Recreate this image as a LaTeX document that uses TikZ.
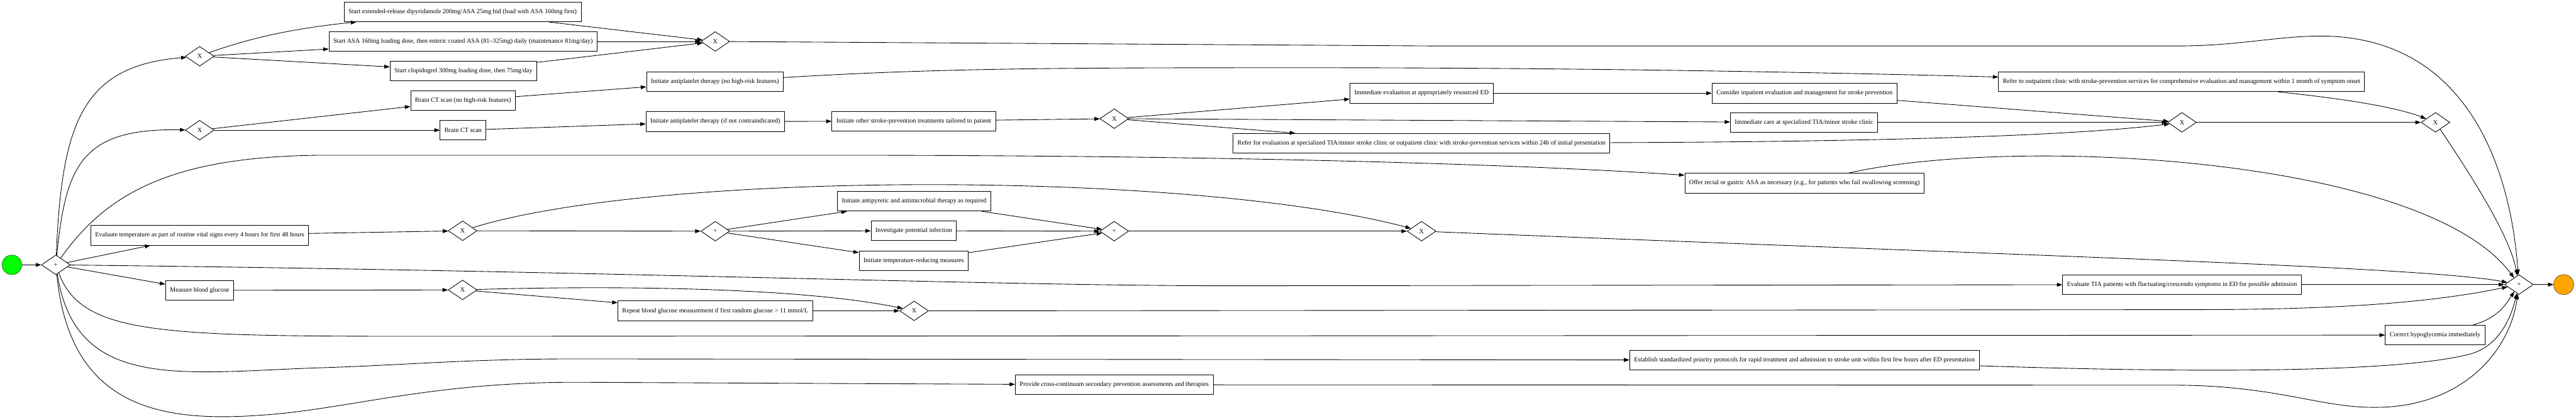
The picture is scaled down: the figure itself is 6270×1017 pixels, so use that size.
\documentclass[tikz,border=0pt]{standalone}
\usepackage{fontspec}
\setmainfont{Liberation Serif}
\usetikzlibrary{shapes.geometric,arrows.meta}
\definecolor{startgreen}{HTML}{00FF00}
\definecolor{endorange}{HTML}{FFA500}

\begin{document}
\begin{tikzpicture}[x=0.75pt, y=-0.75pt,
  task/.style={draw, line width=1pt, rectangle, minimum height=36pt, minimum width=54pt, inner xsep=8pt, font=\fontsize{11.7}{14}\selectfont},
  gate/.style={draw, line width=1pt, diamond, minimum width=52.5pt, minimum height=36pt, inner sep=0pt, font=\fontsize{11.7}{14}\selectfont},
  startev/.style={draw, circle, fill=startgreen, minimum size=36pt, inner sep=0pt},
  endev/.style={draw, circle, fill=endorange, minimum size=36.75pt, inner sep=0pt},
  flow/.style={line width=1pt, -{Triangle[length=10pt,width=7pt]}}]
\path[fill=white, use as bounding box] (0,0) rectangle (6270,1017);

\node[startev] (start) at (29, 645) {};
\node[gate] (pSplit) at (136, 645) {+};

\node[gate] (xDrug) at (486, 137) {X};
\node[task] (dipyr) at (1126, 29) {Start extended-release dipyridamole 200mg/ASA 25mg bid (load with ASA 160mg first)};
\node[task] (asa) at (1127, 101) {Start ASA 160mg loading dose, then enteric coated ASA (81--325mg) daily (maintenance 81mg/day)};
\node[task] (clopid) at (1128, 173) {Start clopidogrel 300mg loading dose, then 75mg/day};
\node[gate] (xDrugJoin) at (1741, 101) {X};

\node[gate] (xCT) at (486, 317) {X};
\node[task] (ctLow) at (1127, 245) {Brain CT scan (no high-risk features)};
\node[task] (ct) at (1127, 317) {Brain CT scan};
\node[task] (apLow) at (1740, 199) {Initiate antiplatelet therapy (no high-risk features)};
\node[task] (apIfOk) at (1741, 296) {Initiate antiplatelet therapy (if not contraindicated)};
\node[task] (other) at (2224, 295) {Initiate other stroke-prevention treatments tailored to patient};
\node[gate] (xRoute) at (2712, 289) {X};
\node[task] (edEval) at (3460, 227) {Immediate evaluation at appropriately resourced ED};
\node[task] (inpat) at (4392, 227) {Consider inpatient evaluation and management for stroke prevention};
\node[task] (tiaCare) at (4391, 298) {Immediate care at specialized TIA/minor stroke clinic};
\node[task] (refer24) at (3460, 349) {Refer for evaluation at specialized TIA/minor stroke clinic or outpatient clinic with stroke-prevention services within 24h of initial presentation};
\node[gate] (xRouteJoin) at (5311, 298) {X};
\node[task] (referMonth) at (5310, 199) {Refer to outpatient clinic with stroke-prevention services for comprehensive evaluation and management within 1 month of symptom onset};
\node[gate] (xPrev) at (5928, 298) {X};

\node[task] (rectal) at (4392, 446) {Offer rectal or gastric ASA as necessary (e.g., for patients who fail swallowing screening)};

\node[task] (temp) at (486, 573) {Evaluate temperature as part of routine vital signs every 4 hours for first 48 hours};
\node[gate] (xTemp) at (1126, 562) {X};
\node[gate] (pFever) at (1741, 563) {+};
\node[task] (antipyr) at (2225, 490) {Initiate antipyretic and antimicrobial therapy as required};
\node[task] (infect) at (2224, 562) {Investigate potential infection};
\node[task] (cool) at (2224, 635) {Initiate temperature-reducing measures};
\node[gate] (pFeverJoin) at (2712, 563) {+};
\node[gate] (xTempJoin) at (3460, 563) {X};

\node[task] (tiaEval) at (5311, 693) {Evaluate TIA patients with fluctuating/crescendo symptoms in ED for possible admission};

\node[task] (gluc) at (486, 707) {Measure blood glucose};
\node[gate] (xGluc) at (1126, 706) {X};
\node[task] (repeatGluc) at (1741, 757) {Repeat blood glucose measurement if first random glucose > 11 mmol/L};
\node[gate] (xGlucJoin) at (2225, 757) {X};

\node[task] (hypo) at (5927, 816) {Correct hypoglycemia immediately};
\node[task] (protocol) at (4392, 877) {Establish standardized priority protocols for rapid treatment and admission to stroke unit within first few hours after ED presentation};
\node[task] (crossCont) at (2712, 937) {Provide cross-continuum secondary prevention assessments and therapies};

\node[gate] (pJoin) at (6131, 693) {+};
\node[endev] (finish) at (6240, 693) {};

\draw[flow] (start) -- (pSplit);
\draw[flow] (pSplit) .. controls (150,300) and (200,160) .. (xDrug);
\draw[flow] (pSplit) .. controls (160,400) and (200,312) .. (xCT);
\draw[flow] (pSplit) .. controls (260,470) and (420,378) .. (800,378) -- (2000,378) .. controls (3000,378) and (3700,400) .. (rectal);
\draw[flow] (pSplit) -- (temp);
\draw[flow] (pSplit) .. controls (1500,660) and (2400,696) .. (3000,696) -- (tiaEval);
\draw[flow] (pSplit) -- (gluc);
\draw[flow] (pSplit) .. controls (200,820) and (400,819) .. (1100,819) -- (hypo);
\draw[flow] (pSplit) .. controls (185,960) and (450,905) .. (800,895) .. controls (1000,888) and (1150,874) .. (1400,874) -- (protocol);
\draw[flow] (pSplit) .. controls (170,1000) and (400,1030) .. (650,1010) .. controls (850,995) and (1050,931) .. (1400,931) -- (crossCont);

\draw[flow] (xDrug) .. controls (640,80) and (780,62) .. (dipyr);
\draw[flow] (xDrug) -- (asa);
\draw[flow] (xDrug) -- (clopid);
\draw[flow] (dipyr) -- (xDrugJoin);
\draw[flow] (asa) -- (xDrugJoin);
\draw[flow] (clopid) -- (xDrugJoin);
\draw[flow] (xDrugJoin) -- (3500,112) -- (5300,112) .. controls (5450,112) and (5550,86) .. (5660,88) .. controls (6000,95) and (6110,400) .. (pJoin);

\draw[flow] (xCT) -- (ctLow);
\draw[flow] (xCT) -- (ct);
\draw[flow] (ctLow) -- (apLow);
\draw[flow] (ct) -- (apIfOk);
\draw[flow] (apLow) .. controls (2300,165) and (2600,165) .. (3200,165) .. controls (3900,165) and (4500,178) .. (referMonth);
\draw[flow] (apIfOk) -- (other);
\draw[flow] (other) -- (xRoute);
\draw[flow] (xRoute) -- (edEval);
\draw[flow] (xRoute) -- (tiaCare);
\draw[flow] (xRoute) -- (refer24);
\draw[flow] (edEval) -- (inpat);
\draw[flow] (inpat) -- (xRouteJoin);
\draw[flow] (tiaCare) -- (xRouteJoin);
\draw[flow] (refer24) .. controls (4600,345) and (5050,330) .. (xRouteJoin);
\draw[flow] (xRouteJoin) -- (xPrev);
\draw[flow] (referMonth) .. controls (5700,240) and (5830,260) .. (xPrev);
\draw[flow] (xPrev) .. controls (6030,450) and (6110,580) .. (pJoin);

\draw[flow] (rectal) .. controls (4900,330) and (5900,380) .. (pJoin);

\draw[flow] (temp) -- (xTemp);
\draw[flow] (xTemp) -- (pFever);
\draw[flow] (xTemp) .. controls (1600,415) and (2900,415) .. (xTempJoin);
\draw[flow] (pFever) -- (antipyr);
\draw[flow] (pFever) -- (infect);
\draw[flow] (pFever) -- (cool);
\draw[flow] (antipyr) -- (pFeverJoin);
\draw[flow] (infect) -- (pFeverJoin);
\draw[flow] (cool) -- (pFeverJoin);
\draw[flow] (pFeverJoin) -- (xTempJoin);
\draw[flow] (xTempJoin) .. controls (5000,625) and (5900,650) .. (pJoin);

\draw[flow] (tiaEval) -- (pJoin);

\draw[flow] (gluc) -- (xGluc);
\draw[flow] (xGluc) -- (repeatGluc);
\draw[flow] (xGluc) .. controls (1500,695) and (1950,700) .. (xGlucJoin);
\draw[flow] (repeatGluc) -- (xGlucJoin);
\draw[flow] (xGlucJoin) -- (5350,754) .. controls (5750,754) and (5950,730) .. (pJoin);

\draw[flow] (hypo) .. controls (6080,775) and (6100,740) .. (pJoin);
\draw[flow] (protocol) .. controls (5400,910) and (5850,905) .. (6013,862) .. controls (6080,843) and (6110,780) .. (pJoin);
\draw[flow] (crossCont) -- (5300,938) .. controls (5550,940) and (5650,995) .. (5790,992) .. controls (6000,988) and (6110,850) .. (pJoin);

\draw[flow] (pJoin) -- (finish);
\end{tikzpicture}
\end{document}
